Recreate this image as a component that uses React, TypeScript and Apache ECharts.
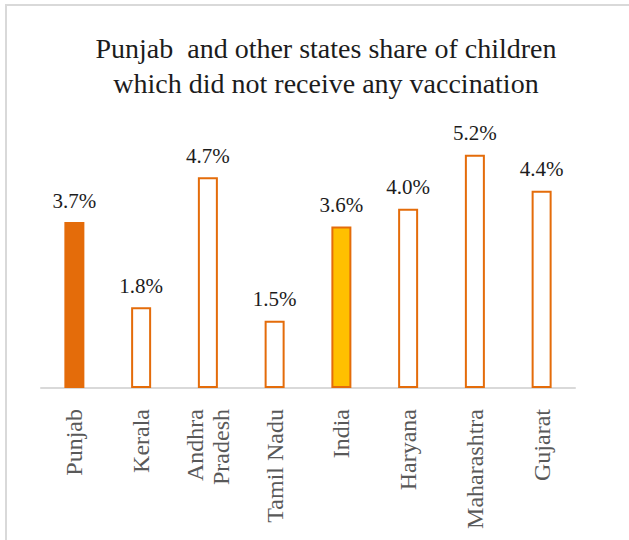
import React, { useEffect, useRef } from "react";
import * as echarts from "echarts";

const titleLines = [
  "Punjab  and other states share of children",
  "which did not receive any vaccination",
];
const categories = [
  "Punjab",
  "Kerala",
  "Andhra\nPradesh",
  "Tamil Nadu",
  "India",
  "Haryana",
  "Maharashtra",
  "Gujarat",
];
const values = [3.7, 1.8, 4.7, 1.5, 3.6, 4.0, 5.2, 4.4];
const yMin = 0;
const yMax = 6;

const ORANGE = "#E46C0A";
const GOLD = "#FFC000";
const SERIF = "Liberation Serif";
const DARK = "#1C1C1C";

export default function App() {
  const ref = useRef<HTMLDivElement>(null);
  useEffect(() => {
    if (!ref.current) return;
    const chart = echarts.init(ref.current, undefined, { renderer: "svg" });
    const fillFor = (name: string) =>
      name === "Punjab" ? ORANGE : name === "India" ? GOLD : "#FFFFFF";
    chart.setOption({
      animation: false,
      backgroundColor: "#FFFFFF",
      textStyle: { fontFamily: SERIF },
      graphic: [
        {
          type: "rect",
          shape: { x: 6, y: 5, width: 700, height: 700 },
          style: { fill: "none", stroke: "#D9D9D9", lineWidth: 2 },
          silent: true,
          z: -1,
        },
      ],
      title: {
        text: titleLines.join("\n"),
        left: 321,
        top: 26,
        textAlign: "center",
        textStyle: {
          fontFamily: SERIF,
          fontSize: 28,
          fontWeight: "normal",
          color: DARK,
          lineHeight: 35,
        },
      },
      grid: { left: 41, top: 119, width: 534, height: 269 },
      xAxis: {
        type: "category",
        data: categories,
        axisLine: { show: true, lineStyle: { color: "#D9D9D9", width: 2 } },
        axisTick: { show: false },
        axisLabel: {
          rotate: 90,
          interval: 0,
          margin: 21,
          fontFamily: SERIF,
          fontSize: 24,
          lineHeight: 26,
          color: "#595959",
        },
      },
      yAxis: {
        type: "value",
        min: yMin,
        max: yMax,
        show: false,
        splitLine: { show: false },
      },
      series: [
        {
          type: "bar",
          barWidth: 20,
          data: values.map((v, i) => ({
            value: v,
            itemStyle: {
              color: fillFor(categories[i]),
              borderColor: ORANGE,
              borderWidth: 2,
            },
          })),
          label: {
            show: true,
            position: "top",
            distance: 11,
            fontFamily: SERIF,
            fontSize: 21,
            lineHeight: 21,
            color: DARK,
            formatter: (p: any) => `${Number(p.value).toFixed(1)}%`,
          },
        },
      ],
    });
    return () => chart.dispose();
  }, []);
  return (
    <div
      ref={ref}
      style={{ position: "fixed", left: 0, top: 0, width: 629, height: 540 }}
    />
  );
}
